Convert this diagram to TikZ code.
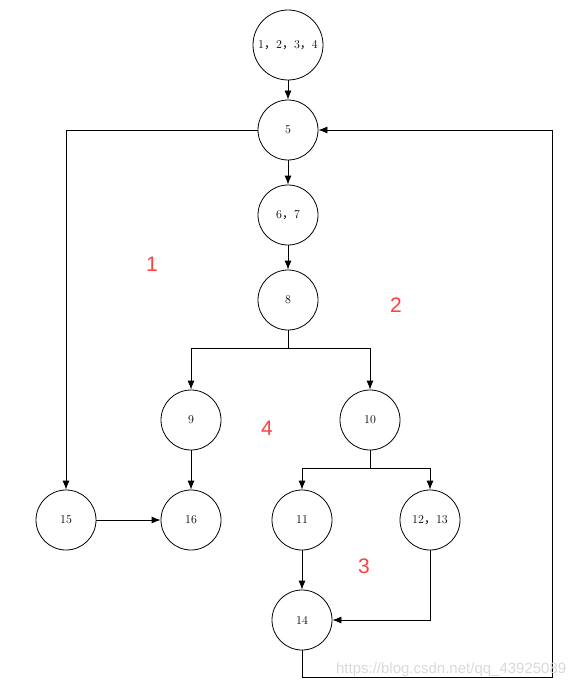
\documentclass[tikz,border=0pt]{standalone}
\usepackage{fontspec}
\usetikzlibrary{arrows.meta}
\newfontfamily\cjk{Noto Sans CJK SC}
\newfontfamily\lblfont{Liberation Sans}
\newcommand{\fwc}{{\cjk ，}}
\definecolor{pathred}{RGB}{255,64,64}
\begin{document}
\begin{tikzpicture}[x=1pt, y=-1pt, >={Latex[length=9pt, width=7pt]}, line width=0.8pt,
        n/.style={circle, draw, inner sep=0pt, minimum size=60pt, font=\fontsize{12}{14}\selectfont},
        big/.style={minimum size=70pt},
        region/.style={text=pathred, font=\lblfont\fontsize{21}{24}\selectfont}]
            \useasboundingbox (0, 0) rectangle (576, 690);
            \node[n, big] (n1234) at (288, 45) {1\fwc 2\fwc 3\fwc 4};
            \node[n] (n5) at (288, 130) {5};
            \node[n] (n67) at (288, 215) {6\fwc 7};
            \node[n] (n8) at (288, 300) {8};
            \node[n] (n9) at (191, 420) {9};
            \node[n] (n10) at (370, 420) {10};
            \node[n] (n15) at (66, 520) {15};
            \node[n] (n16) at (191, 520) {16};
            \node[n] (n11) at (302, 520) {11};
            \node[n] (n1213) at (430, 520) {12\fwc 13};
            \node[n] (n14) at (302, 620) {14};

            \coordinate (s8) at (288, 348);
            \coordinate (s10) at (370, 468);
            \coordinate (back) at (552, 677);

            \draw[->] (n1234) -- (n5);
            \draw[->] (n5) -- (n67);
            \draw[->] (n67) -- (n8);
            \draw[->] (n5) -| (n15);
            \draw (n8) -- (s8);
            \draw[->] (s8) -| (n9);
            \draw[->] (s8) -| (n10);
            \draw[->] (n9) -- (n16);
            \draw[->] (n15) -- (n16);
            \draw (n10) -- (s10);
            \draw[->] (s10) -| (n11);
            \draw[->] (s10) -| (n1213);
            \draw[->] (n11) -- (n14);
            \draw[->] (n1213) |- (n14);
            \draw[->] (n14) |- (back) |- (n5);

            \node[region] (r1) at (152, 264) {1};
            \node[region] (r2) at (396, 305) {2};
            \node[region] (r3) at (364, 566) {3};
            \node[region] (r4) at (267, 428) {4};

            \node[text=black!15, font=\lblfont\fontsize{15}{17}\selectfont, anchor=east] (mark) at (570, 670) {https://blog.csdn.net/qq\_43925089};
        \end{tikzpicture}
\end{document}
